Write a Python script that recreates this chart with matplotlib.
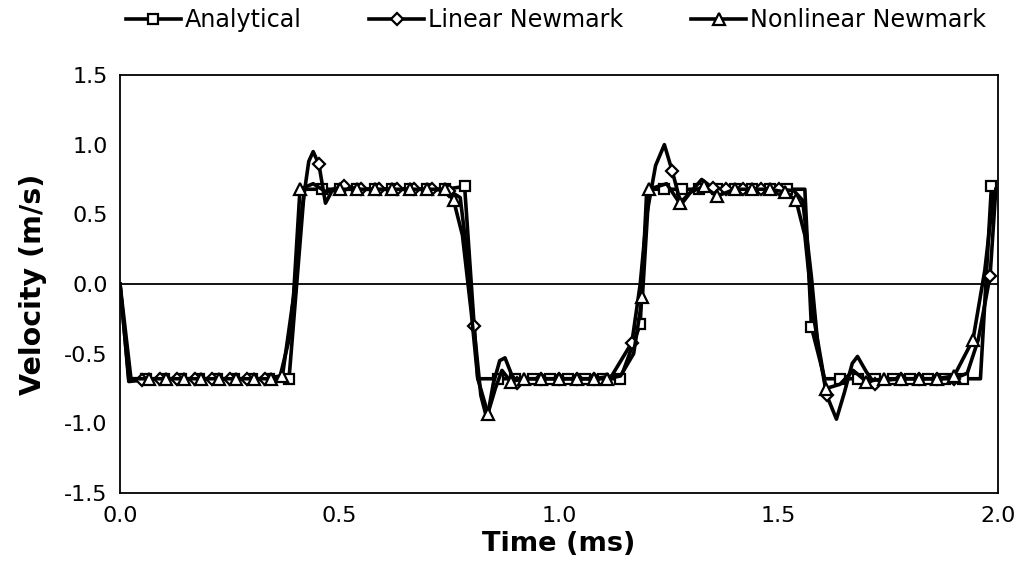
import numpy as np
import matplotlib
matplotlib.use("Agg")
import matplotlib.pyplot as plt
from matplotlib.lines import Line2D

# ---------------- data ----------------
analytical_t = [0.000, 0.020, 0.060, 0.100, 0.140, 0.180, 0.220, 0.260, 0.300, 0.340, 0.385,
                0.420, 0.460, 0.500, 0.540, 0.580, 0.620, 0.660, 0.700, 0.740, 0.785,
                0.815, 0.860, 0.900, 0.940, 0.980, 1.020, 1.060, 1.100, 1.140, 1.185,
                1.200, 1.240, 1.280, 1.320, 1.360, 1.400, 1.440, 1.480, 1.520, 1.560,
                1.575, 1.605, 1.640, 1.680, 1.720, 1.760, 1.800, 1.840, 1.880, 1.920,
                1.960, 1.985]
analytical_v = [0.00, -0.68, -0.68, -0.68, -0.68, -0.68, -0.68, -0.68, -0.68, -0.68, -0.68,
                0.68, 0.68, 0.68, 0.68, 0.68, 0.68, 0.68, 0.68, 0.68, 0.70,
                -0.68, -0.68, -0.68, -0.68, -0.68, -0.68, -0.68, -0.68, -0.68, -0.29,
                0.68, 0.68, 0.68, 0.68, 0.68, 0.68, 0.68, 0.68, 0.68, 0.68,
                -0.31, -0.68, -0.68, -0.68, -0.68, -0.68, -0.68, -0.68, -0.68, -0.68,
                -0.68, 0.70]
analytical_m = [0, 0, 1, 1, 1, 1, 1, 1, 1, 1, 1,
                0, 1, 1, 1, 1, 1, 1, 1, 1, 1,
                0, 1, 1, 1, 1, 1, 1, 1, 1, 1,
                0, 1, 1, 1, 1, 1, 1, 1, 1, 0,
                1, 0, 1, 1, 1, 1, 1, 1, 1, 1,
                0, 1]

linear_t = [0.000, 0.020, 0.050, 0.090, 0.130, 0.170, 0.210, 0.250, 0.290, 0.330, 0.365,
            0.385, 0.400, 0.415, 0.430, 0.440, 0.453, 0.468, 0.485, 0.510, 0.550,
            0.590, 0.630, 0.670, 0.710, 0.750, 0.775, 0.795, 0.806, 0.822, 0.836,
            0.850, 0.865, 0.877, 0.892, 0.905, 0.925, 0.960, 1.000, 1.040, 1.080,
            1.120, 1.166, 1.185, 1.200, 1.220, 1.240, 1.258, 1.278, 1.300, 1.325,
            1.350, 1.380, 1.420, 1.460, 1.500, 1.535, 1.555, 1.575, 1.590, 1.610,
            1.632, 1.650, 1.668, 1.680, 1.700, 1.720, 1.745, 1.780, 1.820, 1.860,
            1.900, 1.930, 1.955, 1.982, 1.995]
linear_v = [0.00, -0.70, -0.69, -0.68, -0.68, -0.68, -0.68, -0.68, -0.68, -0.68, -0.66,
            -0.40, 0.05, 0.55, 0.88, 0.95, 0.86, 0.58, 0.68, 0.70, 0.68,
            0.68, 0.68, 0.68, 0.68, 0.67, 0.62, 0.10, -0.30, -0.80, -0.97,
            -0.72, -0.55, -0.53, -0.65, -0.71, -0.68, -0.68, -0.68, -0.68, -0.68,
            -0.66, -0.42, 0.00, 0.50, 0.85, 1.00, 0.81, 0.57, 0.66, 0.75,
            0.69, 0.68, 0.68, 0.68, 0.68, 0.67, 0.60, 0.05, -0.45, -0.80,
            -0.97, -0.78, -0.57, -0.52, -0.63, -0.72, -0.69, -0.68, -0.68, -0.68,
            -0.68, -0.64, -0.40, 0.06, 0.68]
linear_m = [0, 0, 1, 1, 1, 1, 1, 1, 1, 1, 0,
            0, 0, 0, 0, 0, 1, 0, 0, 1, 1,
            1, 1, 1, 1, 1, 0, 0, 1, 0, 0,
            0, 0, 0, 0, 1, 0, 1, 1, 1, 1,
            0, 1, 0, 0, 0, 0, 1, 0, 0, 0,
            1, 1, 1, 1, 1, 0, 0, 0, 0, 1,
            0, 0, 0, 0, 0, 1, 0, 1, 1, 1,
            1, 0, 0, 1, 0]

nonlinear_t = [0.000, 0.025, 0.065, 0.105, 0.145, 0.185, 0.225, 0.265, 0.305, 0.345, 0.370,
               0.395, 0.410, 0.440, 0.470, 0.500, 0.540, 0.580, 0.620, 0.660, 0.700,
               0.740, 0.760, 0.780, 0.800, 0.815, 0.838, 0.855, 0.870, 0.890, 0.920,
               0.960, 1.000, 1.040, 1.080, 1.110, 1.140, 1.170, 1.190, 1.205, 1.245,
               1.275, 1.300, 1.330, 1.360, 1.400, 1.440, 1.480, 1.515, 1.540, 1.560,
               1.578, 1.608, 1.640, 1.670, 1.700, 1.740, 1.780, 1.820, 1.860, 1.900,
               1.943, 1.970, 1.990]
nonlinear_v = [0.00, -0.68, -0.68, -0.68, -0.68, -0.68, -0.68, -0.68, -0.68, -0.68, -0.66,
               -0.10, 0.68, 0.72, 0.66, 0.68, 0.68, 0.68, 0.68, 0.68, 0.68,
               0.68, 0.60, 0.35, -0.20, -0.68, -0.93, -0.75, -0.62, -0.70, -0.68,
               -0.68, -0.68, -0.68, -0.68, -0.68, -0.66, -0.50, -0.09, 0.68, 0.72,
               0.58, 0.66, 0.70, 0.63, 0.68, 0.68, 0.68, 0.66, 0.60, 0.35,
               -0.20, -0.75, -0.72, -0.62, -0.70, -0.68, -0.68, -0.68, -0.68, -0.66,
               -0.40, 0.10, 0.65]
nonlinear_m = [0, 0, 1, 1, 1, 1, 1, 1, 1, 1, 1,
               0, 1, 0, 0, 1, 1, 1, 1, 1, 1,
               1, 1, 0, 0, 0, 1, 0, 0, 1, 1,
               1, 1, 1, 1, 1, 0, 0, 1, 1, 0,
               1, 0, 1, 1, 1, 1, 1, 1, 1, 0,
               0, 1, 0, 0, 1, 1, 1, 1, 1, 1,
               1, 0, 0]

series_names = ["Analytical", "Linear Newmark", "Nonlinear Newmark"]
x_ticks = [0.0, 0.5, 1.0, 1.5, 2.0]
y_ticks = [-1.5, -1.0, -0.5, 0.0, 0.5, 1.0, 1.5]

# ---------------- figure ----------------
plt.rcParams['font.family'] = ['DejaVu Sans']
fig = plt.figure(figsize=(10.24, 5.75), dpi=100)
ax = fig.add_axes([120/1024, 1 - 493/575, (998 - 120)/1024, (493 - 75)/575])

ax.axhline(0, color='black', lw=1.3, zorder=1)

series = [
    (analytical_t, analytical_v, analytical_m, 's'),
    (linear_t, linear_v, linear_m, 'D'),
    (nonlinear_t, nonlinear_v, nonlinear_m, '^'),
]
handles = []
for (t, v, m, mk), name in zip(series, series_names):
    every = [i for i, f in enumerate(m) if f]
    ms = 7.3 if mk == 's' else (6.2 if mk == 'D' else 8.3)
    ax.plot(t, v, color='black', lw=2.6, marker=mk, markevery=every,
            markersize=ms, markerfacecolor='white', markeredgecolor='black',
            markeredgewidth=1.6, solid_joinstyle='round', zorder=3)
    handles.append(Line2D([0], [0], color='black', lw=2.6, marker=mk, markersize=ms,
                          markerfacecolor='white', markeredgecolor='black',
                          markeredgewidth=1.6))

ax.set_xlim(0, 2.0)
ax.set_ylim(-1.5, 1.5)
ax.set_xticks(x_ticks)
ax.set_yticks(y_ticks)
ax.set_xticklabels([f"{x:.1f}" for x in x_ticks])
ax.set_yticklabels([f"{y:.1f}" for y in y_ticks])
ax.tick_params(length=0, labelsize=16, pad=9)
for s in ax.spines.values():
    s.set_linewidth(1.3)
    s.set_color('black')

ax.set_xlabel("Time (ms)", fontsize=19.5, fontweight='bold', labelpad=4)
ax.set_ylabel("Velocity (m/s)", fontsize=20.5, fontweight='bold', labelpad=12)

fig.legend(handles, series_names, loc='center left', bbox_to_anchor=(126/1024, 1 - 20/575),
           ncol=3, frameon=False, fontsize=17.2, handlelength=2.3, handletextpad=0.15,
           columnspacing=2.85, borderaxespad=0, borderpad=0)

fig.savefig("out.png", dpi=100)
